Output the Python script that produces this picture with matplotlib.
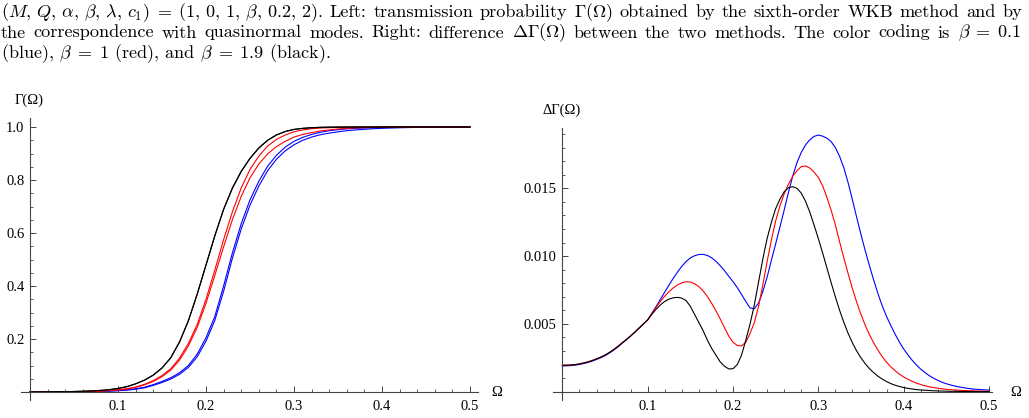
import numpy as np
import matplotlib
matplotlib.use("Agg")
import matplotlib.pyplot as plt
from matplotlib.ticker import FixedLocator, MultipleLocator, FormatStrFormatter

# ---------------- data ----------------
omega_left = np.round(np.arange(0, 0.501, 0.01), 3)    # 0.00 ... 0.50
omega_right = np.round(np.arange(0, 0.5001, 0.005), 3)  # 0.000 ... 0.500

gamma_black_wkb = [0.0003, 0.0005, 0.0007, 0.0010, 0.0015, 0.0021, 0.0030, 0.0043, 0.0061, 0.0090,
                   0.0135, 0.0205, 0.031, 0.045, 0.064, 0.091, 0.130, 0.190, 0.270, 0.370,
                   0.480, 0.590, 0.690, 0.770, 0.833, 0.882, 0.921, 0.950, 0.970, 0.983,
                   0.991, 0.995, 0.9975, 0.9988, 0.9994, 0.9997, 0.9999, 1.0, 1.0, 1.0,
                   1.0, 1.0, 1.0, 1.0, 1.0, 1.0, 1.0, 1.0, 1.0, 1.0, 1.0]
gamma_black_qnm = [0.0003, 0.0005, 0.0007, 0.0010, 0.0015, 0.0021, 0.0030, 0.0043, 0.0060, 0.0089,
                   0.0134, 0.0203, 0.0307, 0.0446, 0.0635, 0.0903, 0.1292, 0.1889, 0.2686, 0.3684,
                   0.4783, 0.5883, 0.6883, 0.7685, 0.8319, 0.8812, 0.9204, 0.9496, 0.9698, 0.9829,
                   0.9909, 0.9949, 0.9974, 0.9987, 0.9994, 0.9997, 0.9999, 1.0, 1.0, 1.0,
                   1.0, 1.0, 1.0, 1.0, 1.0, 1.0, 1.0, 1.0, 1.0, 1.0, 1.0]
gamma_red_wkb = [0.0002, 0.0003, 0.0005, 0.0007, 0.0010, 0.0014, 0.0020, 0.0028, 0.0040, 0.0058,
                 0.0085, 0.0125, 0.019, 0.029, 0.043, 0.062, 0.088, 0.128, 0.183, 0.255,
                 0.350, 0.460, 0.575, 0.680, 0.770, 0.840, 0.890, 0.928, 0.953, 0.970,
                 0.982, 0.989, 0.9935, 0.996, 0.9975, 0.9985, 0.9991, 0.9995, 0.9997, 0.9998,
                 0.9999, 1.0, 1.0, 1.0, 1.0, 1.0, 1.0, 1.0, 1.0, 1.0, 1.0]
gamma_red_qnm = [0.0002, 0.0003, 0.0004, 0.0006, 0.0009, 0.0013, 0.0018, 0.0026, 0.0037, 0.0053,
                 0.0078, 0.0115, 0.0175, 0.027, 0.040, 0.058, 0.083, 0.121, 0.174, 0.244,
                 0.335, 0.440, 0.548, 0.650, 0.738, 0.808, 0.860, 0.898, 0.926, 0.946,
                 0.962, 0.972, 0.979, 0.985, 0.989, 0.9925, 0.995, 0.9967, 0.9978, 0.9986,
                 0.9991, 0.9994, 0.9996, 0.9997, 0.9998, 0.9999, 1.0, 1.0, 1.0, 1.0, 1.0]
gamma_blue_wkb = [0.0001, 0.0002, 0.0003, 0.0004, 0.0006, 0.0009, 0.0013, 0.0019, 0.0027, 0.0039,
                  0.0057, 0.0083, 0.0122, 0.018, 0.028, 0.040, 0.054, 0.073, 0.100, 0.143,
                  0.205, 0.285, 0.400, 0.525, 0.635, 0.725, 0.795, 0.852, 0.893, 0.924,
                  0.946, 0.961, 0.972, 0.980, 0.986, 0.990, 0.993, 0.995, 0.9965, 0.9976,
                  0.9984, 0.9989, 0.9993, 0.9995, 0.9997, 0.9998, 0.9999, 1.0, 1.0, 1.0, 1.0]
gamma_blue_qnm = [0.0001, 0.0002, 0.0003, 0.0004, 0.0005, 0.0008, 0.0012, 0.0017, 0.0024, 0.0035,
                  0.0050, 0.0073, 0.0108, 0.016, 0.025, 0.036, 0.049, 0.067, 0.093, 0.133,
                  0.192, 0.270, 0.380, 0.505, 0.615, 0.705, 0.777, 0.835, 0.878, 0.910,
                  0.933, 0.950, 0.962, 0.971, 0.977, 0.982, 0.986, 0.989, 0.9915, 0.9935,
                  0.995, 0.9962, 0.9972, 0.998, 0.9986, 0.999, 0.9993, 0.9995, 0.9997, 0.9998, 0.9999]

dgamma_black = [0.00195, 0.00196, 0.00197, 0.00200, 0.00205, 0.00212, 0.00220, 0.00230, 0.00242, 0.00255,
                0.00270, 0.00289, 0.00310, 0.00334, 0.00360, 0.00385, 0.00412, 0.00440, 0.00470, 0.00500,
                0.00530, 0.00572, 0.00609, 0.00641, 0.00666, 0.00683, 0.00693, 0.00696, 0.00690, 0.00672,
                0.00630, 0.00570, 0.00510, 0.00450, 0.00380, 0.00320, 0.00270, 0.00220, 0.00188, 0.00168,
                0.00170, 0.00200, 0.00270, 0.00380, 0.00500, 0.00640, 0.00810, 0.00980, 0.01130, 0.01250,
                0.01350, 0.01420, 0.01475, 0.01505, 0.01512, 0.01500, 0.01465, 0.01405, 0.01325, 0.01230,
                0.01130, 0.01025, 0.00915, 0.00805, 0.00700, 0.00600, 0.00510, 0.00430, 0.00360, 0.00300,
                0.00250, 0.00207, 0.00170, 0.00140, 0.00114, 0.00093, 0.00075, 0.00060, 0.00048, 0.00039,
                0.00031, 0.00025, 0.00020, 0.00016, 0.00013, 0.00011, 0.00009, 0.00007, 0.00006, 0.00005,
                0.00004, 0.00003, 0.00003, 0.00002, 0.00002, 0.00002, 0.00001, 0.00001, 0.00001, 0.00001,
                0.00001]
dgamma_red = [0.00195, 0.00196, 0.00197, 0.00200, 0.00205, 0.00212, 0.00220, 0.00230, 0.00242, 0.00255,
              0.00270, 0.00289, 0.00310, 0.00334, 0.00360, 0.00385, 0.00412, 0.00440, 0.00470, 0.00500,
              0.00530, 0.00578, 0.00624, 0.00667, 0.00705, 0.00738, 0.00766, 0.00788, 0.00803, 0.00811,
              0.00809, 0.00797, 0.00775, 0.00743, 0.00702, 0.00652, 0.00597, 0.00537, 0.00473, 0.00410,
              0.00365, 0.00341, 0.00338, 0.00365, 0.00430, 0.00510, 0.00630, 0.00790, 0.00960, 0.01120,
              0.01260, 0.01370, 0.01460, 0.01530, 0.01590, 0.01630, 0.01660, 0.01665, 0.01650, 0.01620,
              0.01580, 0.01520, 0.01435, 0.01340, 0.01230, 0.01105, 0.00985, 0.00870, 0.00760, 0.00660,
              0.00570, 0.00490, 0.00420, 0.00360, 0.00305, 0.00258, 0.00218, 0.00184, 0.00155, 0.00130,
              0.00109, 0.00092, 0.00077, 0.00064, 0.00053, 0.00044, 0.00037, 0.00031, 0.00026, 0.00022,
              0.00018, 0.00015, 0.00013, 0.00011, 0.00009, 0.00008, 0.00007, 0.00006, 0.00005, 0.00004,
              0.00004]
dgamma_blue = [0.00190, 0.00191, 0.00193, 0.00196, 0.00201, 0.00208, 0.00216, 0.00226, 0.00238, 0.00251,
               0.00266, 0.00285, 0.00306, 0.00330, 0.00357, 0.00383, 0.00410, 0.00439, 0.00469, 0.00500,
               0.00530, 0.00580, 0.00630, 0.00682, 0.00735, 0.00787, 0.00837, 0.00883, 0.00925, 0.00960,
               0.00987, 0.01003, 0.01012, 0.01013, 0.01005, 0.00988, 0.00962, 0.00930, 0.00893, 0.00852,
               0.00812, 0.00768, 0.00718, 0.00665, 0.00618, 0.00612, 0.00655, 0.00740, 0.00845, 0.00970,
               0.01090, 0.01215, 0.01340, 0.01470, 0.01590, 0.01690, 0.01765, 0.01820, 0.01858, 0.01883,
               0.01893, 0.01885, 0.01870, 0.01845, 0.01800, 0.01735, 0.01650, 0.01540, 0.01415, 0.01285,
               0.01160, 0.01040, 0.00928, 0.00822, 0.00722, 0.00632, 0.00555, 0.00488, 0.00425, 0.00367,
               0.00316, 0.00272, 0.00232, 0.00197, 0.00167, 0.00141, 0.00119, 0.00100, 0.00084, 0.00070,
               0.00059, 0.00050, 0.00042, 0.00035, 0.00030, 0.00025, 0.00021, 0.00018, 0.00016, 0.00014,
               0.00012]

left_yticks = [0.2, 0.4, 0.6, 0.8, 1.0]
right_yticks = [0.005, 0.010, 0.015]
xticks = [0.1, 0.2, 0.3, 0.4, 0.5]

caption_line1 = ["$(M,\\,Q,\\,\\alpha,\\,\\beta,\\,\\lambda,\\,c_1)\\;=\\;(1,\\,0,\\,1,\\,\\beta,\\,0.2,\\,2)$.",
                 "Left:", "transmission", "probability", "$\\Gamma(\\Omega)$", "obtained", "by", "the",
                 "sixth-order", "WKB", "method", "and", "by"]
caption_line2 = ["the", "correspondence", "with", "quasinormal", "modes.", "Right:", "difference",
                 "$\\Delta\\Gamma(\\Omega)$", "between", "the", "two", "methods.", "The", "color",
                 "coding", "is", "$\\beta\\;=\\;0.1$"]
caption_line3 = "(blue), $\\beta\\;=\\;1$ (red), and $\\beta\\;=\\;1.9$ (black)."

# ---------------- figure ----------------
plt.rcParams["mathtext.fontset"] = "cm"
plt.rcParams["font.family"] = ["Liberation Serif", "DejaVu Serif"]

W, H = 1029, 418
fig = plt.figure(figsize=(W / 100, H / 100), dpi=100)
fig.patch.set_facecolor("white")

AXC = "#444444"
TICKFS = 10.5


def px_axes(x0, x1, ytop, ybot):
    return fig.add_axes([x0 / W, 1 - ybot / H, (x1 - x0) / W, (ybot - ytop) / H])


def style(ax, xlim, ylim, yt, yminor, yfmt):
    ax.set_xlim(*xlim)
    ax.set_ylim(*ylim)
    for s in ("top", "right"):
        ax.spines[s].set_visible(False)
    for s in ("left", "bottom"):
        ax.spines[s].set_position(("data", 0))
        ax.spines[s].set_color(AXC)
        ax.spines[s].set_linewidth(0.8)
    ax.xaxis.set_major_locator(FixedLocator(xticks))
    ax.xaxis.set_minor_locator(MultipleLocator(0.02))
    ax.yaxis.set_major_locator(FixedLocator(yt))
    ax.yaxis.set_minor_locator(MultipleLocator(yminor))
    ax.xaxis.set_major_formatter(FormatStrFormatter("%.1f"))
    ax.yaxis.set_major_formatter(FormatStrFormatter(yfmt))
    ax.tick_params(which="major", direction="in", length=4, width=0.7, color=AXC,
                   labelsize=TICKFS, labelcolor="black")
    ax.tick_params(which="minor", direction="in", length=2.2, width=0.6, color=AXC)
    ax.tick_params(axis="x", which="major", pad=6)
    ax.tick_params(axis="y", which="major", pad=4)
    ax.patch.set_alpha(0)


lw = 0.8

# left panel: x_px = 30 + 880*omega, y_px = 392 - 265*Gamma
axL = px_axes(21.2, 477.9, 118.0, 400.0)
style(axL, (-0.01, 0.509), (-0.03, 1.034), left_yticks, 0.05, "%.1f")
axL.plot(omega_left, gamma_blue_wkb, color="blue", lw=lw)
axL.plot(omega_left, gamma_blue_qnm, color="blue", lw=lw)
axL.plot(omega_left, gamma_red_wkb, color="red", lw=lw)
axL.plot(omega_left, gamma_red_qnm, color="red", lw=lw)
axL.plot(omega_left, gamma_black_wkb, color="black", lw=lw)
axL.plot(omega_left, gamma_black_qnm, color="black", lw=lw)

# right panel: x_px = 562.4 + 853*omega, y_px = 391.7 - 13560*dGamma
axR = px_axes(553.0, 992.0, 128.0, 400.0)
style(axR, (-0.011, 0.5036), (-0.00061, 0.01945), right_yticks, 0.001, "%.3f")
axR.plot(omega_right, dgamma_blue, color="blue", lw=lw)
axR.plot(omega_right, dgamma_red, color="red", lw=lw)
axR.plot(omega_right, dgamma_black, color="black", lw=lw)

# axis labels
fig.text(29 / W, 1 - 100 / H, "Γ(Ω)", ha="center", va="center", fontsize=10.5)
fig.text(497 / W, 1 - 393 / H, "Ω", ha="center", va="center", fontsize=10.5)
fig.text(562 / W, 1 - 110 / H, "ΔΓ(Ω)", ha="center", va="center", fontsize=10.5)
fig.text(1016 / W, 1 - 393 / H, "Ω", ha="center", va="center", fontsize=10.5)

# caption (justified lines)
CAPFS = 13.1
renderer = fig.canvas.get_renderer()


def justify(tokens, baseline_px, x0, x1):
    texts = [fig.text(0, 1 - baseline_px / H, t, fontsize=CAPFS, family="cmr10",
                      ha="left", va="baseline") for t in tokens]
    widths = [t.get_window_extent(renderer).width for t in texts]
    gap = (x1 - x0 - sum(widths)) / (len(tokens) - 1)
    x = x0
    for t, w in zip(texts, widths):
        t.set_x(x / W)
        x += w + gap


justify(caption_line1, 17, 1, 1022)
justify(caption_line2, 37.5, 1, 1021)
fig.text(1 / W, 1 - 58 / H, caption_line3, fontsize=CAPFS, family="cmr10", ha="left", va="baseline")

fig.savefig("out.png", dpi=100, facecolor="white")
